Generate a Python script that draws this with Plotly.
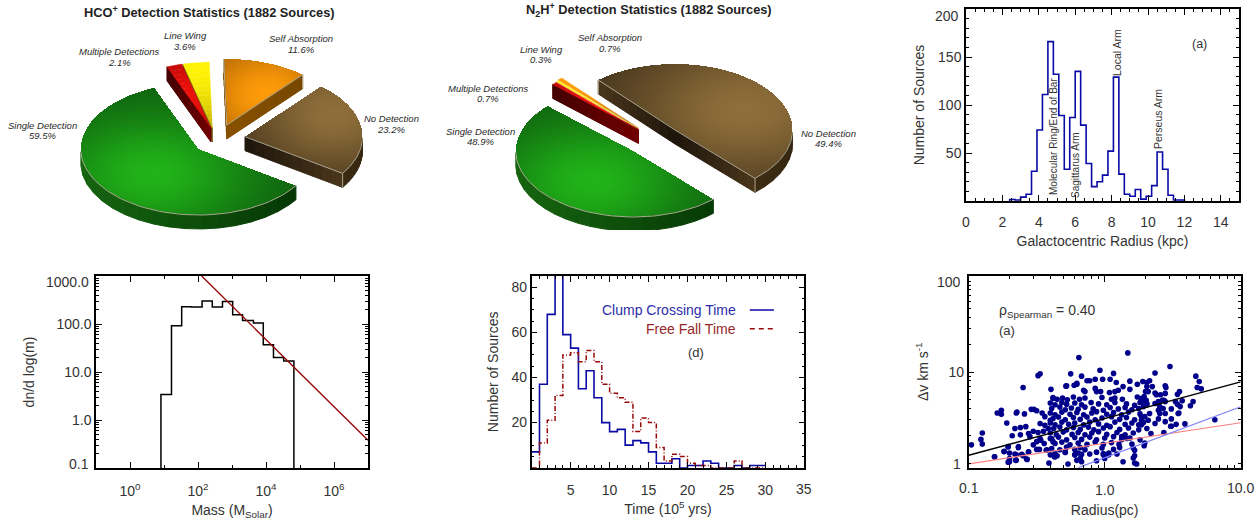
import numpy as np
import plotly.graph_objects as go

W, H = 1260, 520
FONT = "Liberation Sans"
TXT = "#333333"

# ---------- data ----------
pie_labels = ["Single Detection", "No Detection", "Self Absorption", "Line Wing", "Multiple Detections"]
hco_pct = [59.5, 23.2, 11.6, 3.6, 2.1]
n2h_pct = [48.9, 49.4, 0.7, 0.3, 0.7]

gal_edges = [2.4 + 0.3 * i for i in range(33)]
gal_counts = [1.5, 1, 4, 7, 31, 74, 111, 166, 132, 89, 33, 87, 135, 79, 39, 15, 20, 27, 52, 129,
              28, 7, 5, 12, 2, 5, 16, 51, 33, 6, 1, 1]
gal_labels = ["Molecular Ring/End of Bar", "Sagittarus Arm", "Local Arm", "Perseus Arm"]

mass_log_edges = [0.91, 1.22, 1.52, 1.81, 2.12, 2.42, 2.72, 3.02, 3.31, 3.63, 3.92, 4.22, 4.52, 4.82]
mass_counts = [3.4, 92, 230, 225, 300, 225, 295, 155, 118, 105, 37, 20, 17]
mass_fit_x = [128, 1e7]
mass_fit_y = [1000, 0.38]

time_edges = list(range(0, 31))
clump_counts = [7, 37, 68, 88, 59, 53, 35, 43, 31, 20, 16, 17, 10, 12, 11, 7, 2, 2, 4, 0, 1, 1, 3, 2, 0, 0, 1, 0, 1, 1]
fall_counts = [0, 11, 21, 32, 50, 51, 47, 52, 47, 37, 33, 31, 29, 16, 22, 20, 9, 3, 6, 5, 2, 1, 1, 0, 0, 0, 3, 0, 0, 0]

fit_x_black = [0.1, 10]; fit_y_black = [1.22, 7.8]
fit_x_pink = [0.1, 10]; fit_y_pink = [0.98, 2.77]
fit_x_blue = [0.64, 10]; fit_y_blue = [0.89, 4.16]

# (log10 radius, log10 delta-v)
log_points = [
(-.98,.20),(-.91,.26),(-.90,.33),(-.90,.21),(-.81,.07),(-.79,.55),(-.76,.58),(-.76,.535),(-.72,.44),(-.74,.13),
(-.71,.18),(-.71,.01),(-.70,.11),(-.66,.38),(-.62,.39),(-.68,.30),(-.62,.31),(-.65,.55),(-.645,.56),(-.59,.54),
(-.58,.40),(-.60,.83),(-.49,.96),(-.475,.98),(-.635,.17),(-.65,.09),(-.65,.03),(-.60,.08),(-.57,.04),(-.56,.12),
(-.54,.59),(-.52,.59),(-.50,.575),(-.46,.55),(-.395,.81),(-.38,.71),(-.41,0),(-.27,-.01),(-.19,1.16),(-.25,.98),
(-.17,.955),(-.28,.85),(-.205,.865),(-.035,1.02),(-.11,.905),(.065,.985),(-.07,.92),(-.015,.92),(.04,.92),(.17,1.21),
(.48,1.06),(.37,.99),(.67,.955),(.695,.895),(.68,.83),(.71,.815),(.81,.475),(.65,.675),(.63,.63),(.59,.43),
(.55,.785),(.535,.755),(.57,.685),(.54,.545),(.525,.425),(.49,.405),(.435,.335),(.34,.325),(.295,.22),(.22,.08),
(.22,0),(.235,-.01),(.135,.015),(.22,.14),(.11,.17),(.105,.205),(.125,.29),(.16,.27),(.03,.09),(-.01,.105),
(-.06,.025),(-.17,.095),(-.22,.09),(-.205,.03),(-.17,.015),(-.29,.115),(-.35,.08),(-.37,.07),(-.43,.14),(-.48,.15),
(-.50,.15),(.28,.895),(.31,.885),(.33,.905),(.31,.84),(.35,.84),(.32,.785),(.30,.785),(.445,.85),(.45,.83),
(.445,.765),(.37,.77),(.38,.75),(.41,.75),(.435,.69),(.52,.675),(.535,.645),(.555,.62),(.27,.71),(.29,.73),
(.305,.69),(.28,.675),(.31,.655),(.37,.655),(.395,.675),(.425,.69),(.445,.675),(.405,.62),(.43,.60),(.395,.58),
(.405,.545),(.445,.545),(.49,.595),(.545,.55),(.49,.485),(.485,.405),(.445,.455),(.29,.19),(.27,.42),(.31,.38),
(.37,.435),(.33,.545),(.295,.51),(.27,.51),(.32,.47),(.395,.485),(.27,.47),(.31,.64),
(-.13,.905),(.085,.885),(.185,.90),(.24,.865),(.185,.81),(.135,.84),(.10,.80),(.075,.785),(.035,.775),(-.155,.80),
(-.145,.785),(-.07,.82),(-.06,.785),(-.03,.785),(-.225,.855),(-.205,.875),(-.285,.845),
(-.38,.72),(-.35,.70),(-.31,.715),(-.275,.695),(-.23,.725),(-.185,.70),(-.145,.715),(-.02,.72),(.05,.70),(.075,.715),
(.13,.70),(.24,.725),(.27,.69),
(-.40,.66),(-.365,.64),(-.315,.665),(-.28,.645),(-.22,.66),(-.17,.64),(-.10,.665),(-.045,.65),(.015,.64),(.075,.665),
(.16,.65),(.22,.635),(.26,.665),
(-.39,.60),(-.33,.615),(-.29,.585),(-.245,.605),(-.195,.59),(-.145,.615),(-.085,.595),(-.01,.58),(.04,.61),(.10,.595),
(.15,.61),(.20,.585),(.25,.60),(.285,.62),
(-.40,.55),(-.365,.53),(-.315,.56),(-.255,.535),(-.205,.555),(-.155,.53),(-.095,.55),(-.06,.565),(.015,.535),(.065,.555),
(.125,.53),(.175,.56),(.26,.54),
(-.38,.49),(-.34,.505),(-.29,.475),(-.23,.50),(-.18,.48),(-.13,.505),(-.07,.475),(-.02,.495),(.05,.51),(.11,.48),
(.16,.50),(.22,.475),
(-.40,.44),(-.365,.42),(-.315,.45),(-.265,.425),(-.22,.44),(-.155,.42),(-.11,.45),(-.045,.43),(.015,.415),(.075,.45),
(.15,.425),(.20,.44),(.25,.42),(.285,.445),
(-.375,.38),(-.33,.395),(-.28,.365),(-.23,.39),(-.18,.37),(-.12,.395),(-.08,.365),(-.01,.385),(.04,.40),(.11,.37),
(.175,.385),(.25,.365),
(-.40,.33),(-.355,.31),(-.305,.34),(-.24,.315),(-.195,.335),(-.145,.31),(-.095,.33),(-.045,.345),(.015,.315),(.09,.335),
(.15,.31),(.21,.33),
(-.39,.27),(-.34,.285),(-.28,.255),(-.22,.28),(-.17,.26),(-.11,.285),(-.06,.255),(0,.275),(.065,.29),(.125,.26),
(.185,.275),(.26,.255),
(-.365,.215),(-.315,.23),(-.255,.20),(-.195,.22),(-.13,.205),(-.07,.23),(-.01,.205),(.05,.225),(.20,.21),
(-.39,.16),(-.33,.145),(-.28,.175),(-.22,.15),(-.18,.17),(-.145,.145),(-.02,.165),(.065,.15),(.21,.165),
(-.365,.105),(-.29,.12),(-.22,.09),(-.195,.11),(-.11,.10),(-.06,.12),(-.01,.09),(.03,.11),(.09,.10),
(-.18,.05),(0,.05),(.21,.055),
(-.44,.51),(-.40,.47),(-.475,.435),(-.44,.415),(-.525,.35),(-.49,.335),(-.45,.35),(-.415,.38),(-.56,.325),(-.55,.29),
(-.475,.27),(-.50,.235),(-.525,.20),(-.445,.215),(-.47,.25),(-.40,.27),(-.38,.235),(-.425,.145),(-.40,.09),(-.365,.07),
(-.56,.125),(-.575,.045),(-.61,.095),(-.635,.18),(-.66,.10),(-.655,.03),(-.70,.05),(-.70,.015),(-.71,.18),(-.74,.125),
(-.81,.07),
]

# ---------- helpers ----------
def fx(px): return px / W
def fy(py): return 1 - py / H
def xd(a, b): return [fx(a), fx(b)]
def yd(a, b): return [fy(b), fy(a)]

fig = go.Figure()

def note(text, x, y, size=14, color=TXT, angle=0, anchor="center", style="normal", weight="normal"):
    fig.add_annotation(text=text, x=fx(x), y=fy(y), xref="paper", yref="paper", showarrow=False,
                       font=dict(family=FONT, size=size, color=color, style=style, weight=weight), textangle=angle,
                       xanchor=anchor, yanchor="middle", align="center")

def lerp(a, b, t):
    return tuple(a[i] + (b[i] - a[i]) * t for i in range(3))
def rgb(c):
    return "rgb(%d,%d,%d)" % tuple(int(round(v)) for v in c)

# ---------- pies ----------
RX, RY, DEPTH = 117.5, 66, 14
OUT = "rgba(195,190,165,0.85)"
STYLE = {
    "Single Detection": dict(dark=(14, 92, 14), bright=(32, 178, 24), arc=((22, 100, 16), (3, 50, 3)), face=((10, 60, 10), (10, 60, 10))),
    "No Detection": dict(dark=(62, 46, 25), bright=(142, 110, 58), arc=((85, 62, 30), (55, 40, 18)), face=((32, 23, 12), (72, 52, 26))),
    "Self Absorption": dict(dark=(135, 75, 5), bright=(255, 155, 8), arc=((130, 78, 0), (130, 78, 0)), face=((135, 80, 0), (120, 72, 0))),
    "Line Wing": dict(dark=(170, 150, 5), bright=(255, 242, 5), arc=((110, 100, 20), (110, 100, 20)), face=((110, 100, 25), (95, 85, 25))),
    "Multiple Detections": dict(dark=(150, 8, 8), bright=(235, 15, 10), arc=((90, 0, 0), (90, 0, 0)), face=((110, 0, 0), (70, 0, 0))),
}

def add_wall(axis, pts_top, cols):
    for i in range(len(pts_top) - 1):
        (x0, y0), (x1, y1) = pts_top[i], pts_top[i + 1]
        c = rgb(cols[i])
        fig.add_trace(go.Scatter(x=[x0, x1, x1, x0, x0], y=[y0, y1, y1 + DEPTH, y0 + DEPTH, y0], mode="lines", fill="toself",
                                 fillcolor=c, line=dict(color=c, width=1), hoverinfo="skip", showlegend=False,
                                 xaxis=axis[0], yaxis=axis[1]))

def polyline(axis, xs, ys, color=OUT, width=1):
    fig.add_trace(go.Scatter(x=xs, y=ys, mode="lines", line=dict(color=color, width=width), hoverinfo="skip",
                             showlegend=False, xaxis=axis[0], yaxis=axis[1]))

def draw_pie(pct, start, apexes, lights, x0, x1, axis, wall_flags):
    grid_x = np.arange(x0, x1) + 0.5
    grid_y = np.arange(0, 230) + 0.5
    X, Y = np.meshgrid(grid_x, grid_y)
    t1 = start
    for name, p, ap, li, wf in zip(pie_labels, pct, apexes, lights, wall_flags):
        t2 = t1 + p * 3.6
        st = STYLE[name]
        ax_, ay_ = ap
        a1, a2 = np.radians(t1), np.radians(t2)
        P = lambda t, r=1.0: (ax_ + r * RX * np.cos(t), ay_ - r * RY * np.sin(t))
        big = p >= 5
        if wf:
            for a, cond in ((a1, np.cos(a1) > 0), (a2, np.cos(a2) < 0)):
                if cond:
                    ex, ey = P(a)
                    n = 10
                    pts = [(ax_ + (ex - ax_) * i / n, ay_ + (ey - ay_) * i / n) for i in range(n + 1)]
                    add_wall(axis, pts, [lerp(st["face"][0], st["face"][1], i / (n - 1)) for i in range(n)])
        ts = np.linspace(a1, a2, 80)
        vis = ts[np.sin(ts) < 0]
        if len(vis) > 1:
            pts = [P(t) for t in vis[::3]] + [P(vis[-1])]
            cols = []
            for i in range(len(pts) - 1):
                f = np.clip((pts[i][0] - (ax_ - RX)) / (2 * RX), 0, 1)
                cols.append(lerp(st["arc"][0], st["arc"][1], f))
            add_wall(axis, pts, cols)
        if big:
            u = (X - ax_) / RX
            v = -(Y - ay_) / RY
            ang = np.degrees(np.arctan2(v, u)) % 360
            inside = ((ang - t1) % 360 <= (t2 - t1)) & (u ** 2 + v ** 2 <= 1)
            s = np.exp(-((X - ax_ - li[0]) / li[2]) ** 2 - ((Y - ay_ - li[1]) / li[3]) ** 2)
            z = np.where(inside, s, np.nan)
            rows = np.where(inside.any(axis=1))[0]
            cols_ = np.where(inside.any(axis=0))[0]
            z = z[rows[0]:rows[-1] + 1, cols_[0]:cols_[-1] + 1]
            fig.add_trace(go.Heatmap(x=grid_x[cols_[0]:cols_[-1] + 1], y=grid_y[rows[0]:rows[-1] + 1], z=z, zmin=0, zmax=1,
                                     colorscale=[[0, rgb(st["dark"])], [1, rgb(st["bright"])]], showscale=False,
                                     hoverinfo="skip", name=name, xaxis=axis[0], yaxis=axis[1]))
        else:
            nb = 14
            for b in range(nb):
                r0, r1 = b / nb, (b + 1) / nb
                tt = np.linspace(a1, a2, 5)
                pa = [P(t, r1) for t in tt] + [P(t, r0) for t in tt[::-1]]
                sh = np.exp(-((r0 - li[0]) / li[2]) ** 2)
                c = rgb(lerp(st["dark"], st["bright"], sh))
                fig.add_trace(go.Scatter(x=[q[0] for q in pa] + [pa[0][0]], y=[q[1] for q in pa] + [pa[0][1]], mode="lines",
                                         fill="toself", fillcolor=c, line=dict(color=c, width=0.4), hoverinfo="skip",
                                         showlegend=False, xaxis=axis[0], yaxis=axis[1]))
        if len(vis) > 1:
            pa = [P(t) for t in vis]
            polyline(axis, [q[0] for q in pa], [q[1] for q in pa])
        if wf and p >= 5:
            for a, cond in ((a1, np.cos(a1) > 0), (a2, np.cos(a2) < 0)):
                if cond:
                    ex, ey = P(a)
                    polyline(axis, [ax_, ex, ex], [ay_, ey, ey + DEPTH])
        t1 = t2

draw_pie(hco_pct, 112.0,
         [(198.3, 149), (245, 136.7), (226.7, 125), (212.3, 128), (211, 128)],
         [(-45, 25, 100, 60), (88, -23, 85, 60), (40, -30, 70, 55), (0.9, 0, 0.9, 0), (0.5, 0, 0.6, 0)],
         0, 430, ("x", "y"), [True, True, True, True, True])
draw_pie(n2h_pct, 136.9,
         [(633.3, 151), (675, 130), (638.5, 128), (638.5, 128.7), (638.5, 129.5)],
         [(-40, 30, 100, 60), (70, -20, 120, 70), (0.9, 0, 0.9, 0), (0.9, 0, 0.9, 0), (0.5, 0, 0.6, 0)],
         430, 860, ("x2", "y2"), [True, True, False, False, True])

note("HCO<sup>+</sup> Detection Statistics (1882 Sources)", 209, 12, size=12.8, color="#222222", weight="bold")
note("N<sub>2</sub>H<sup>+</sup> Detection Statistics (1882 Sources)", 649, 10, size=12.8, color="#222222", weight="bold")
hco_pos = [(42, 130), (391, 124), (301, 44), (185, 41), (119, 57)]
n2h_pos = [(481, 136), (828, 138), (610, 43), (541, 54), (488, 93)]
for pos, pct in ((hco_pos, hco_pct), (n2h_pos, n2h_pct)):
    for (px, py), name, p in zip(pos, pie_labels, pct):
        note(name, px, py - 5, size=9.5, color="#2a2a2a", style="italic")
        note("%.1f%%" % p, px, py + 5.5, size=9.5, color="#2a2a2a", style="italic")

def step(edges, vals, floor=None):
    x = list(edges); y = list(vals) + [vals[-1]]
    if floor is not None:
        x = [edges[0]] + x
        y = [floor] + y
        x = x + [edges[-1]]
        y = y + [floor]
    return x, y

NAVY = "rgb(10,10,165)"
DARKRED = "rgb(150,10,10)"

x, y = step(gal_edges, gal_counts, 0)
fig.add_trace(go.Scatter(x=x, y=y, mode="lines", line=dict(color=NAVY, width=1.6, shape="hv"), showlegend=False, xaxis="x3", yaxis="y3"))
note(gal_labels[0], 1054, 137, size=10, angle=-90)
note(gal_labels[1], 1075, 165, size=10, angle=-90)
note(gal_labels[2], 1117, 53, size=10.5, angle=-90)
note(gal_labels[3], 1158, 119, size=10.5, angle=-90)
note("(a)", 1199, 44, size=12.5)
note("200", 961, 16, size=14, anchor="right")
note("0", 966, 222, size=14)

mass_edges = [10 ** e for e in mass_log_edges]
x, y = step(mass_edges, mass_counts, 0.05)
fig.add_trace(go.Scatter(x=x, y=y, mode="lines", line=dict(color="black", width=1.5, shape="hv"), showlegend=False, xaxis="x4", yaxis="y4"))
fig.add_trace(go.Scatter(x=mass_fit_x, y=mass_fit_y, mode="lines", line=dict(color=DARKRED, width=1.4), showlegend=False, xaxis="x4", yaxis="y4"))
note("1000.0", 91, 282, size=14, anchor="right")
note("0.1", 91, 464, size=14, anchor="right")

x, y = step(time_edges, clump_counts)
fig.add_trace(go.Scatter(x=x, y=y, mode="lines", line=dict(color=NAVY, width=1.6, shape="hv"), showlegend=False, xaxis="x5", yaxis="y5"))
x, y = step(time_edges, fall_counts)
fig.add_trace(go.Scatter(x=x, y=y, mode="lines", line=dict(color=DARKRED, width=1.5, shape="hv", dash="5px,2px,1px,2px"), showlegend=False, xaxis="x5", yaxis="y5"))
fig.add_trace(go.Scatter(x=[28, 31.1], y=[69.9, 69.9], mode="lines", line=dict(color=NAVY, width=1.5), showlegend=False, xaxis="x5", yaxis="y5"))
fig.add_trace(go.Scatter(x=[28, 31.1], y=[61.6, 61.6], mode="lines", line=dict(color=DARKRED, width=1.5, dash="5px,4px"), showlegend=False, xaxis="x5", yaxis="y5"))
note("Clump Crossing Time", 738, 310, size=14, color="rgb(45,45,170)", anchor="right")
note("Free Fall Time", 738, 329, size=14, color="rgb(150,40,40)", anchor="right")
note("(d)", 696, 352, size=13)
note("35", 804, 489, size=14)

pts = np.array(log_points)
fig.add_trace(go.Scatter(x=10 ** pts[:, 0], y=10 ** pts[:, 1], mode="markers",
                         marker=dict(color="rgb(0,0,139)", size=5.6, line=dict(width=0)), showlegend=False, xaxis="x6", yaxis="y6"))
fig.add_trace(go.Scatter(x=fit_x_black, y=fit_y_black, mode="lines", line=dict(color="black", width=1.5), showlegend=False, xaxis="x6", yaxis="y6"))
fig.add_trace(go.Scatter(x=fit_x_pink, y=fit_y_pink, mode="lines", line=dict(color="rgb(250,130,130)", width=1.2), showlegend=False, xaxis="x6", yaxis="y6"))
fig.add_trace(go.Scatter(x=fit_x_blue, y=fit_y_blue, mode="lines", line=dict(color="rgb(130,130,250)", width=1.2), showlegend=False, xaxis="x6", yaxis="y6"))
note("ρ<sub>Spearman</sub> = 0.40", 997, 311, size=14, anchor="left")
note("(a)", 1007, 330, size=13)
note("0.1", 969, 488, size=14)
note("10.0", 1240, 488, size=14)
note("100", 963, 282, size=14, anchor="right")
note("1", 963, 464, size=14, anchor="right")

def hidden(dom, rng):
    return dict(domain=dom, range=rng, visible=False, fixedrange=True)

def frame(dom, rng, title=None, standoff=8, labelpad=0, **kw):
    d = dict(domain=dom, range=rng, showgrid=False, zeroline=False, showline=True, mirror="allticks", linecolor="black",
             linewidth=1.5, ticks="inside", ticklen=6, tickwidth=1, tickcolor="black",
             tickfont=dict(family=FONT, size=14, color=TXT), ticklabelstandoff=labelpad,
             title=dict(text=title, font=dict(family=FONT, size=14, color=TXT), standoff=standoff))
    d.update(kw)
    return d

def minor(**kw):
    return dict(ticks="inside", ticklen=3, tickwidth=1, tickcolor="black", **kw)

def log_minors(lo, hi):
    return [m * 10 ** e for e in range(lo, hi) for m in range(2, 10)]

layout = dict(
    width=W, height=H, margin=dict(l=0, r=0, t=0, b=0), paper_bgcolor="white", plot_bgcolor="white", showlegend=False,
    xaxis=hidden(xd(0, 430), [0, 430]), yaxis=hidden(yd(0, 230), [230, 0]),
    xaxis2=hidden(xd(430, 860), [430, 860]), yaxis2=hidden(yd(0, 230), [230, 0]),
    xaxis3=frame(xd(966, 1239), [0, 15], "Galactocentric Radius (kpc)", standoff=8, labelpad=7, anchor="y3",
                 tickvals=[2, 4, 6, 8, 10, 12, 14], minor=minor(dtick=0.5)),
    yaxis3=frame(yd(9, 201), [0, 200], "Number of Sources", standoff=10, anchor="x3", tickvals=[50, 100, 150], minor=minor(dtick=10)),
    xaxis4=frame(xd(96, 368), [-1, 7], "Mass (M<sub>Solar</sub>)", standoff=8, labelpad=9, anchor="y4", type="log",
                 tickvals=[1, 100, 1e4, 1e6], ticktext=["10<sup>0</sup>", "10<sup>2</sup>", "10<sup>4</sup>", "10<sup>6</sup>"],
                 minor=minor(tickvals=[10, 1000, 1e5])),
    yaxis4=frame(yd(276, 468), [-1, 3], "dn/d log(m)", standoff=19, anchor="x4", type="log",
                 tickvals=[1, 10, 100], ticktext=["1.0", "10.0", "100.0"], minor=minor(tickvals=log_minors(-1, 3))),
    xaxis5=frame(xd(531.7, 804.3), [0, 35], "Time (10<sup>5</sup> yrs)", standoff=7, labelpad=9, anchor="y5",
                 tickvals=[5, 10, 15, 20, 25, 30], minor=minor(dtick=1)),
    yaxis5=frame(yd(276, 467.7), [0, 85], "Number of Sources", standoff=10, anchor="x5", tickvals=[20, 40, 60, 80], minor=minor(dtick=5)),
    xaxis6=frame(xd(968.7, 1240.7), [-1, 1], "Radius(pc)", standoff=8, labelpad=9, anchor="y6", type="log",
                 tickvals=[1], ticktext=["1.0"], minor=minor(tickvals=log_minors(-1, 1))),
    yaxis6=frame(yd(276, 467.7), [-0.051, 2.055], "Δv km s<sup>-1</sup>", standoff=17, anchor="x6", type="log",
                 tickvals=[10], ticktext=["10"], minor=minor(tickvals=[1, 100] + log_minors(0, 2))),
)
fig.update_layout(**layout)

fig.write_html("out.html", config=dict(displayModeBar=False),
               post_script="document.body.style.margin='0';document.body.style.overflow='hidden';")
